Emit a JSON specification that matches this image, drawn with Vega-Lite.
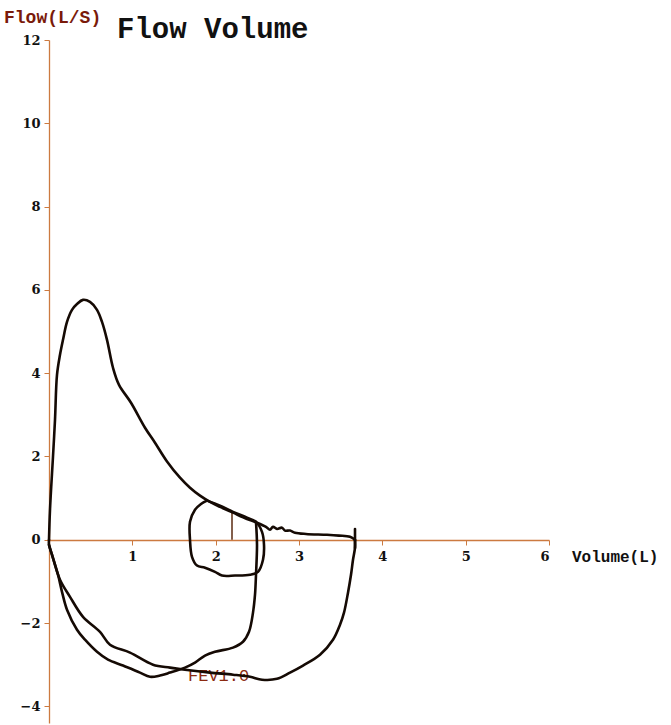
{
  "$schema": "https://vega.github.io/schema/vega-lite/v6.json",
  "width": 500,
  "height": 683,
  "autosize": {"type": "none"},
  "padding": {"left": 49, "top": 40, "right": 122, "bottom": 2},
  "background": "white",
  "config": {"view": {"stroke": null}},
  "datasets": {
    "curves": [
      {"series": "exp", "i": 0, "vol": 0, "flow": 0},
      {"series": "exp", "i": 1, "vol": 0.012, "flow": 0.72},
      {"series": "exp", "i": 2, "vol": 0.048, "flow": 2.0},
      {"series": "exp", "i": 3, "vol": 0.072, "flow": 2.88},
      {"series": "exp", "i": 4, "vol": 0.096, "flow": 3.96},
      {"series": "exp", "i": 5, "vol": 0.132, "flow": 4.44},
      {"series": "exp", "i": 6, "vol": 0.168, "flow": 4.8},
      {"series": "exp", "i": 7, "vol": 0.216, "flow": 5.23},
      {"series": "exp", "i": 8, "vol": 0.276, "flow": 5.52},
      {"series": "exp", "i": 9, "vol": 0.336, "flow": 5.66},
      {"series": "exp", "i": 10, "vol": 0.408, "flow": 5.76},
      {"series": "exp", "i": 11, "vol": 0.492, "flow": 5.71},
      {"series": "exp", "i": 12, "vol": 0.576, "flow": 5.52},
      {"series": "exp", "i": 13, "vol": 0.636, "flow": 5.23},
      {"series": "exp", "i": 14, "vol": 0.696, "flow": 4.8},
      {"series": "exp", "i": 15, "vol": 0.768, "flow": 4.13},
      {"series": "exp", "i": 16, "vol": 0.84, "flow": 3.72},
      {"series": "exp", "i": 17, "vol": 0.984, "flow": 3.29},
      {"series": "exp", "i": 18, "vol": 1.152, "flow": 2.69},
      {"series": "exp", "i": 19, "vol": 1.272, "flow": 2.33},
      {"series": "exp", "i": 20, "vol": 1.416, "flow": 1.88},
      {"series": "exp", "i": 21, "vol": 1.572, "flow": 1.49},
      {"series": "exp", "i": 22, "vol": 1.692, "flow": 1.25},
      {"series": "exp", "i": 23, "vol": 1.812, "flow": 1.06},
      {"series": "exp", "i": 24, "vol": 1.932, "flow": 0.91},
      {"series": "exp", "i": 25, "vol": 2.052, "flow": 0.79},
      {"series": "exp", "i": 26, "vol": 2.208, "flow": 0.65},
      {"series": "exp", "i": 27, "vol": 2.376, "flow": 0.5},
      {"series": "exp", "i": 28, "vol": 2.496, "flow": 0.41},
      {"series": "exp", "i": 29, "vol": 2.604, "flow": 0.31},
      {"series": "exp", "i": 30, "vol": 2.652, "flow": 0.24},
      {"series": "exp", "i": 31, "vol": 2.688, "flow": 0.31},
      {"series": "exp", "i": 32, "vol": 2.736, "flow": 0.26},
      {"series": "exp", "i": 33, "vol": 2.796, "flow": 0.29},
      {"series": "exp", "i": 34, "vol": 2.832, "flow": 0.22},
      {"series": "exp", "i": 35, "vol": 2.892, "flow": 0.22},
      {"series": "exp", "i": 36, "vol": 2.952, "flow": 0.17},
      {"series": "exp", "i": 37, "vol": 3.084, "flow": 0.14},
      {"series": "exp", "i": 38, "vol": 3.336, "flow": 0.12},
      {"series": "exp", "i": 39, "vol": 3.48, "flow": 0.1},
      {"series": "exp", "i": 40, "vol": 3.612, "flow": 0.07},
      {"series": "exp", "i": 41, "vol": 3.672, "flow": 0.0},

      {"series": "insp1", "i": 0, "vol": 3.672, "flow": 0},
      {"series": "insp1", "i": 1, "vol": 3.672, "flow": -0.19},
      {"series": "insp1", "i": 2, "vol": 3.648, "flow": -0.48},
      {"series": "insp1", "i": 3, "vol": 3.624, "flow": -0.84},
      {"series": "insp1", "i": 4, "vol": 3.588, "flow": -1.27},
      {"series": "insp1", "i": 5, "vol": 3.54, "flow": -1.75},
      {"series": "insp1", "i": 6, "vol": 3.492, "flow": -2.04},
      {"series": "insp1", "i": 7, "vol": 3.408, "flow": -2.4},
      {"series": "insp1", "i": 8, "vol": 3.252, "flow": -2.76},
      {"series": "insp1", "i": 9, "vol": 3.048, "flow": -3.02},
      {"series": "insp1", "i": 10, "vol": 2.892, "flow": -3.19},
      {"series": "insp1", "i": 11, "vol": 2.736, "flow": -3.34},
      {"series": "insp1", "i": 12, "vol": 2.556, "flow": -3.36},
      {"series": "insp1", "i": 13, "vol": 2.412, "flow": -3.29},
      {"series": "insp1", "i": 14, "vol": 2.208, "flow": -3.24},
      {"series": "insp1", "i": 15, "vol": 1.932, "flow": -3.19},
      {"series": "insp1", "i": 16, "vol": 1.632, "flow": -3.12},
      {"series": "insp1", "i": 17, "vol": 1.452, "flow": -3.07},
      {"series": "insp1", "i": 18, "vol": 1.248, "flow": -3.0},
      {"series": "insp1", "i": 19, "vol": 0.972, "flow": -2.71},
      {"series": "insp1", "i": 20, "vol": 0.732, "flow": -2.52},
      {"series": "insp1", "i": 21, "vol": 0.612, "flow": -2.21},
      {"series": "insp1", "i": 22, "vol": 0.408, "flow": -1.85},
      {"series": "insp1", "i": 23, "vol": 0.252, "flow": -1.37},
      {"series": "insp1", "i": 24, "vol": 0.132, "flow": -0.96},
      {"series": "insp1", "i": 25, "vol": 0.036, "flow": -0.36},
      {"series": "insp1", "i": 26, "vol": 0, "flow": -0.12},
      {"series": "insp1", "i": 27, "vol": 0, "flow": 0},

      {"series": "insp2", "i": 0, "vol": 2.484, "flow": 0.43},
      {"series": "insp2", "i": 1, "vol": 2.496, "flow": -0.12},
      {"series": "insp2", "i": 2, "vol": 2.484, "flow": -0.84},
      {"series": "insp2", "i": 3, "vol": 2.472, "flow": -1.32},
      {"series": "insp2", "i": 4, "vol": 2.448, "flow": -1.75},
      {"series": "insp2", "i": 5, "vol": 2.4, "flow": -2.21},
      {"series": "insp2", "i": 6, "vol": 2.328, "flow": -2.45},
      {"series": "insp2", "i": 7, "vol": 2.208, "flow": -2.59},
      {"series": "insp2", "i": 8, "vol": 1.992, "flow": -2.69},
      {"series": "insp2", "i": 9, "vol": 1.872, "flow": -2.78},
      {"series": "insp2", "i": 10, "vol": 1.752, "flow": -2.95},
      {"series": "insp2", "i": 11, "vol": 1.632, "flow": -3.07},
      {"series": "insp2", "i": 12, "vol": 1.452, "flow": -3.19},
      {"series": "insp2", "i": 13, "vol": 1.332, "flow": -3.26},
      {"series": "insp2", "i": 14, "vol": 1.212, "flow": -3.29},
      {"series": "insp2", "i": 15, "vol": 1.092, "flow": -3.19},
      {"series": "insp2", "i": 16, "vol": 0.888, "flow": -3.02},
      {"series": "insp2", "i": 17, "vol": 0.708, "flow": -2.88},
      {"series": "insp2", "i": 18, "vol": 0.576, "flow": -2.69},
      {"series": "insp2", "i": 19, "vol": 0.432, "flow": -2.4},
      {"series": "insp2", "i": 20, "vol": 0.336, "flow": -2.16},
      {"series": "insp2", "i": 21, "vol": 0.216, "flow": -1.68},
      {"series": "insp2", "i": 22, "vol": 0.156, "flow": -1.25},
      {"series": "insp2", "i": 23, "vol": 0.108, "flow": -0.84},
      {"series": "insp2", "i": 24, "vol": 0.036, "flow": -0.36},
      {"series": "insp2", "i": 25, "vol": 0, "flow": -0.12},

      {"series": "tidal", "i": 0, "vol": 1.896, "flow": 0.94},
      {"series": "tidal", "i": 1, "vol": 2.052, "flow": 0.82},
      {"series": "tidal", "i": 2, "vol": 2.208, "flow": 0.67},
      {"series": "tidal", "i": 3, "vol": 2.376, "flow": 0.53},
      {"series": "tidal", "i": 4, "vol": 2.484, "flow": 0.43},
      {"series": "tidal", "i": 5, "vol": 2.556, "flow": 0.19},
      {"series": "tidal", "i": 6, "vol": 2.58, "flow": -0.12},
      {"series": "tidal", "i": 7, "vol": 2.568, "flow": -0.48},
      {"series": "tidal", "i": 8, "vol": 2.508, "flow": -0.77},
      {"series": "tidal", "i": 9, "vol": 2.412, "flow": -0.84},
      {"series": "tidal", "i": 10, "vol": 2.232, "flow": -0.86},
      {"series": "tidal", "i": 11, "vol": 2.076, "flow": -0.86},
      {"series": "tidal", "i": 12, "vol": 1.992, "flow": -0.77},
      {"series": "tidal", "i": 13, "vol": 1.872, "flow": -0.67},
      {"series": "tidal", "i": 14, "vol": 1.776, "flow": -0.62},
      {"series": "tidal", "i": 15, "vol": 1.716, "flow": -0.41},
      {"series": "tidal", "i": 16, "vol": 1.692, "flow": 0},
      {"series": "tidal", "i": 17, "vol": 1.692, "flow": 0.43},
      {"series": "tidal", "i": 18, "vol": 1.752, "flow": 0.72},
      {"series": "tidal", "i": 19, "vol": 1.824, "flow": 0.86},
      {"series": "tidal", "i": 20, "vol": 1.896, "flow": 0.94},

      {"series": "bar", "i": 0, "vol": 3.672, "flow": 0.26},
      {"series": "bar", "i": 1, "vol": 3.672, "flow": -0.2}
    ],
    "markers": [
      {"series": "marker", "i": 0, "vol": 2.196, "flow": 0},
      {"series": "marker", "i": 1, "vol": 2.196, "flow": 0.67}
    ]
  },
  "layer": [
    {
      "data": {"values": [{"vol": 1.668, "flow": -3.39, "label": "FEV1.0"}]},
      "mark": {"type": "text", "font": "Liberation Mono", "fontSize": 17, "color": "#8b2a10", "align": "left", "baseline": "alphabetic"},
      "encoding": {
        "x": {"field": "vol", "type": "quantitative", "scale": {"domain": [0, 6], "nice": false, "zero": false},
          "axis": {"values": [1, 2, 3, 4, 5, 6], "format": "d", "offset": -183, "title": null, "grid": false,
            "domainColor": "#cc7a40", "domainWidth": 1.3, "tickColor": "#cc7a40", "tickSize": 5,
            "labelFont": "DejaVu Serif", "labelFontWeight": "bold", "labelFontSize": 13, "labelColor": "#111111", "labelPadding": 5}},
        "y": {"field": "flow", "type": "quantitative", "scale": {"domain": [-4.4, 12], "nice": false, "zero": false},
          "axis": {"values": [-4, -2, 0, 2, 4, 6, 8, 10, 12], "format": "d", "title": null, "grid": false,
            "domainColor": "#cc7a40", "domainWidth": 1.3, "tickColor": "#cc7a40", "tickSize": 5,
            "labelFont": "DejaVu Serif", "labelFontWeight": "bold", "labelFontSize": 13, "labelColor": "#111111", "labelPadding": 4}},
        "text": {"field": "label"}
      }
    },
    {
      "data": {"name": "markers"},
      "mark": {"type": "line", "color": "#5a2a10", "strokeWidth": 1.5},
      "encoding": {
        "x": {"field": "vol", "type": "quantitative"},
        "y": {"field": "flow", "type": "quantitative"},
        "order": {"field": "i"}
      }
    },
    {
      "data": {"name": "curves"},
      "mark": {"type": "line", "color": "#150a04", "strokeWidth": 2.6, "interpolate": "catmull-rom", "strokeJoin": "round", "strokeCap": "round"},
      "encoding": {
        "x": {"field": "vol", "type": "quantitative"},
        "y": {"field": "flow", "type": "quantitative"},
        "detail": {"field": "series"},
        "order": {"field": "i"}
      }
    },
    {
      "data": {"values": [{"vol": -0.54, "flow": 12.41, "label": "Flow(L/S)"}]},
      "mark": {"type": "text", "font": "Liberation Mono", "fontWeight": "bold", "fontSize": 18, "color": "#7a1a0a", "align": "left", "baseline": "alphabetic"},
      "encoding": {
        "x": {"field": "vol", "type": "quantitative"},
        "y": {"field": "flow", "type": "quantitative"},
        "text": {"field": "label"}
      }
    },
    {
      "data": {"values": [{"vol": 0.816, "flow": 12.05, "label": "Flow Volume"}]},
      "mark": {"type": "text", "font": "Liberation Mono", "fontWeight": "bold", "fontSize": 29, "color": "#111111", "align": "left", "baseline": "alphabetic"},
      "encoding": {
        "x": {"field": "vol", "type": "quantitative"},
        "y": {"field": "flow", "type": "quantitative"},
        "text": {"field": "label"}
      }
    },
    {
      "data": {"values": [{"vol": 6.276, "flow": -0.53, "label": "Volume(L)"}]},
      "mark": {"type": "text", "font": "Liberation Mono", "fontWeight": "bold", "fontSize": 16, "color": "#111111", "align": "left", "baseline": "alphabetic"},
      "encoding": {
        "x": {"field": "vol", "type": "quantitative"},
        "y": {"field": "flow", "type": "quantitative"},
        "text": {"field": "label"}
      }
    }
  ]
}
